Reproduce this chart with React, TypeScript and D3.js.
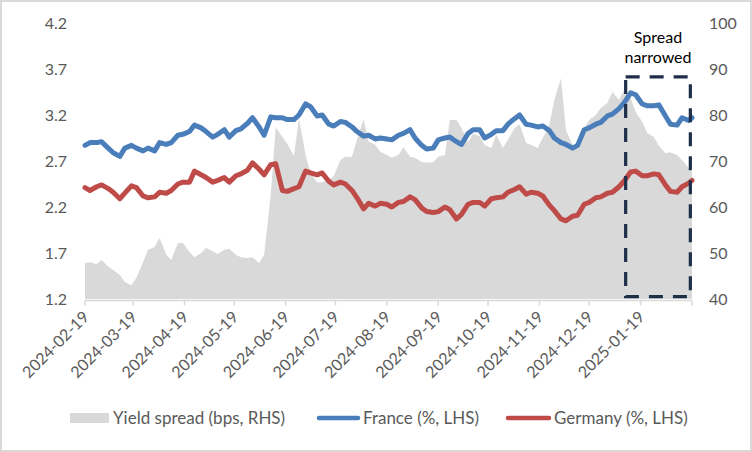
import React from "react";
import * as d3 from "d3";

const dates = [
  "2024-02-19","2024-02-22","2024-02-26","2024-02-29","2024-03-04","2024-03-07","2024-03-11","2024-03-14",
  "2024-03-18","2024-03-21","2024-03-25","2024-03-28","2024-04-01","2024-04-04","2024-04-08","2024-04-11",
  "2024-04-15","2024-04-18","2024-04-22","2024-04-25","2024-04-29","2024-05-02","2024-05-06","2024-05-09",
  "2024-05-13","2024-05-16","2024-05-20","2024-05-23","2024-05-27","2024-05-30","2024-06-03","2024-06-06",
  "2024-06-10","2024-06-13","2024-06-17","2024-06-20","2024-06-24","2024-06-27","2024-07-01","2024-07-04",
  "2024-07-08","2024-07-11","2024-07-15","2024-07-18","2024-07-22","2024-07-25","2024-07-29","2024-08-01",
  "2024-08-05","2024-08-08","2024-08-12","2024-08-15","2024-08-19","2024-08-22","2024-08-26","2024-08-29",
  "2024-09-02","2024-09-05","2024-09-09","2024-09-12","2024-09-16","2024-09-19","2024-09-23","2024-09-26",
  "2024-09-30","2024-10-03","2024-10-07","2024-10-10","2024-10-14","2024-10-17","2024-10-21","2024-10-24",
  "2024-10-28","2024-10-31","2024-11-04","2024-11-07","2024-11-11","2024-11-14","2024-11-18","2024-11-21",
  "2024-11-25","2024-11-28","2024-12-02","2024-12-05","2024-12-09","2024-12-12","2024-12-16","2024-12-19",
  "2024-12-23","2024-12-26","2024-12-30","2025-01-02","2025-01-06","2025-01-09","2025-01-13","2025-01-16",
  "2025-01-20","2025-01-23","2025-01-27","2025-01-30","2025-02-03","2025-02-06","2025-02-10","2025-02-13",
  "2025-02-17","2025-02-19"
];

const france = [
  2.87,2.90,2.90,2.91,2.84,2.79,2.75,2.84,2.87,2.84,2.81,2.84,2.81,2.90,2.88,2.90,
  2.98,2.99,3.02,3.09,3.06,3.02,2.96,2.99,3.04,2.96,3.03,3.05,3.11,3.17,3.07,2.98,
  3.18,3.17,3.17,3.15,3.15,3.20,3.32,3.29,3.19,3.20,3.10,3.08,3.13,3.12,3.07,3.02,
  2.97,2.98,2.94,2.95,2.94,2.93,2.98,3.00,3.04,2.95,2.87,2.83,2.84,2.93,2.95,2.96,
  2.91,2.88,3.00,3.04,3.04,2.95,2.99,3.03,3.03,3.10,3.16,3.20,3.10,3.09,3.07,3.08,
  3.03,2.95,2.90,2.88,2.84,2.87,3.04,3.06,3.10,3.12,3.19,3.21,3.27,3.33,3.44,3.42,
  3.32,3.30,3.30,3.31,3.19,3.10,3.09,3.17,3.14,3.17
];

const germany = [
  2.41,2.38,2.42,2.44,2.40,2.36,2.29,2.35,2.43,2.41,2.32,2.30,2.31,2.36,2.35,2.38,
  2.45,2.47,2.47,2.59,2.55,2.52,2.47,2.49,2.52,2.47,2.54,2.56,2.60,2.68,2.61,2.55,
  2.66,2.67,2.38,2.37,2.40,2.42,2.59,2.57,2.55,2.57,2.48,2.44,2.47,2.45,2.38,2.30,
  2.18,2.24,2.21,2.24,2.23,2.20,2.25,2.26,2.31,2.28,2.19,2.15,2.14,2.15,2.20,2.17,
  2.07,2.12,2.23,2.25,2.25,2.21,2.29,2.30,2.31,2.36,2.39,2.42,2.34,2.36,2.35,2.32,
  2.22,2.16,2.07,2.05,2.10,2.11,2.23,2.25,2.30,2.31,2.35,2.36,2.42,2.48,2.58,2.59,
  2.54,2.54,2.56,2.55,2.44,2.37,2.36,2.42,2.46,2.49
];

const spread = [
  47.8,48.0,47.6,48.5,47.0,46.3,45.2,43.7,43.0,44.6,48.0,50.7,51.3,53.3,49.6,48.5,
  52.2,52.2,50.2,49.1,50.0,51.1,50.4,49.8,50.7,50.9,49.6,49.1,48.9,49.1,47.8,49.6,
  62.6,77.4,75.2,73.7,71.1,79.3,71.3,67.4,65.4,65.4,65.9,66.7,70.2,70.9,70.9,74.6,
  79.0,74.3,73.5,72.0,71.3,70.7,71.3,73.0,70.9,70.7,69.8,69.6,69.8,70.9,71.3,78.9,
  78.9,77.2,74.1,75.9,75.4,73.5,72.8,75.7,72.8,74.6,77.2,78.0,73.9,73.5,72.8,75.0,
  77.8,83.3,88.0,76.7,73.5,73.0,77.2,78.9,80.0,81.5,82.6,85.0,83.3,85.4,83.7,80.7,
  78.5,76.1,75.2,73.3,71.7,71.9,71.3,70.2,68.5,67.6
];

const leftTicks = [1.2, 1.7, 2.2, 2.7, 3.2, 3.7, 4.2];
const rightTicks = [40, 50, 60, 70, 80, 90, 100];
const xTickLabels = [
  "2024-02-19","2024-03-19","2024-04-19","2024-05-19","2024-06-19","2024-07-19",
  "2024-08-19","2024-09-19","2024-10-19","2024-11-19","2024-12-19","2025-01-19"
];
const xDomain = ["2024-02-19", "2025-02-19"];
const leftDomain = [1.2, 4.2];
const rightDomain = [40, 100];

const seriesNames = ["Yield spread (bps, RHS)", "France (%, LHS)", "Germany (%, LHS)"];
const annotationLines = ["Spread", "narrowed"];
const annotationFrom = "2025-01-10";
const annotationTo = "2025-02-18";
const annotationTop = 88.3;
const annotationBottom = 40.5;

const COLORS = { spread: "#d9d9d9", france: "#4a7ebb", germany: "#be4b48", box: "#1f2f4a", text: "#595959" };
const FONT = "Lato, 'Liberation Sans', sans-serif";

export default function App() {
  const W = 752, H = 452;
  const parse = d3.utcParse("%Y-%m-%d");
  const L = 85, R = 692, T = 23, B = 299;

  const x = d3.scaleUtc().domain(xDomain.map((d) => parse(d) as Date)).range([L, R]);
  const yL = d3.scaleLinear().domain(leftDomain).range([B, T]);
  const yR = d3.scaleLinear().domain(rightDomain).range([B, T]);

  const pts = dates.map((d, i) => ({ t: parse(d) as Date, f: france[i], g: germany[i], s: spread[i] }));

  const area = d3.area<any>().x((d) => x(d.t)).y0(yR(rightDomain[0])).y1((d) => yR(d.s));
  const lineF = d3.line<any>().x((d) => x(d.t)).y((d) => yL(d.f));
  const lineG = d3.line<any>().x((d) => x(d.t)).y((d) => yL(d.g));

  const tickDates = [...xTickLabels, xDomain[1]].map((d) => parse(d) as Date);
  const axisY = B + 1.5;

  const bx0 = x(parse(annotationFrom) as Date);
  const bx1 = x(parse(annotationTo) as Date);
  const by0 = yR(annotationTop);
  const by1 = yR(annotationBottom);

  const legY = 418;

  return (
    <svg width={W} height={H} style={{ position: "absolute", left: 0, top: 0, background: "#fff" }} fontFamily={FONT}>
      <rect x={0} y={0} width={W} height={H} fill="#fff" />
      <rect x={1} y={1} width={W - 2} height={H - 2} fill="none" stroke="#d9d9d9" strokeWidth={2} />

      <path d={area(pts) || ""} fill={COLORS.spread} />

      <line x1={L} x2={R} y1={axisY} y2={axisY} stroke="#d9d9d9" strokeWidth={1.5} />
      {tickDates.map((d, i) => (
        <line key={i} x1={x(d)} x2={x(d)} y1={axisY} y2={axisY + 5} stroke="#d9d9d9" strokeWidth={1.5} />
      ))}

      <path d={lineF(pts) || ""} fill="none" stroke={COLORS.france} strokeWidth={5} strokeLinejoin="round" strokeLinecap="round" />
      <path d={lineG(pts) || ""} fill="none" stroke={COLORS.germany} strokeWidth={5} strokeLinejoin="round" strokeLinecap="round" />

      {leftTicks.map((v) => (
        <text key={v} x={67} y={yL(v)} dy="0.36em" textAnchor="end" fontSize={16} fill={COLORS.text}>
          {v.toFixed(1)}
        </text>
      ))}
      {rightTicks.map((v) => (
        <text key={v} x={709} y={yR(v)} dy="0.36em" textAnchor="start" fontSize={16} fill={COLORS.text}>
          {v}
        </text>
      ))}
      {xTickLabels.map((lab) => {
        const px = x(parse(lab) as Date);
        return (
          <text key={lab} transform={`translate(${px + 5},${318}) rotate(-45)`} textAnchor="end" fontSize={16} fill={COLORS.text}>
            {lab}
          </text>
        );
      })}

      <rect x={bx0} y={by0} width={bx1 - bx0} height={by1 - by0} fill="none" stroke={COLORS.box} strokeWidth={3.2} strokeDasharray="14,10" />
      {annotationLines.map((s, i) => (
        <text key={s} x={(bx0 + bx1) / 2} y={43 + i * 20} textAnchor="middle" fontSize={16} fill="#000">
          {s}
        </text>
      ))}

      {/* legend */}
      <rect x={70} y={legY - 5} width={39} height={10} fill={COLORS.spread} />
      <text x={113} y={legY} dy="0.36em" fontSize={17} fill={COLORS.text}>{seriesNames[0]}</text>
      <line x1={319} x2={358} y1={legY} y2={legY} stroke={COLORS.france} strokeWidth={4.5} strokeLinecap="round" />
      <text x={363} y={legY} dy="0.36em" fontSize={17} fill={COLORS.text}>{seriesNames[1]}</text>
      <line x1={508} x2={549} y1={legY} y2={legY} stroke={COLORS.germany} strokeWidth={4.5} strokeLinecap="round" />
      <text x={554} y={legY} dy="0.36em" fontSize={17} fill={COLORS.text}>{seriesNames[2]}</text>
    </svg>
  );
}
